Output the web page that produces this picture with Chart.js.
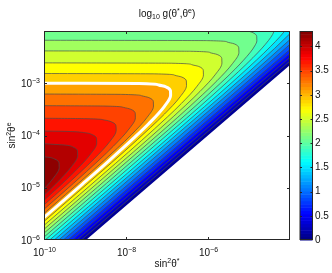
<!DOCTYPE html>
<html>
<head>
<meta charset="utf-8">
<script src="https://cdn.jsdelivr.net/npm/chart.js@4.4.1/dist/chart.umd.min.js"></script>
<style>
  html, body { margin: 0; padding: 0; background: #fff; }
</style>
</head>
<body>
<canvas id="chart" width="332" height="273"></canvas>
<script>
// axes are log10 exponents: x = log10 sin^2(theta*), y = log10 sin^2(theta^e)
const xTicks = [-10, -8, -6];
const yTicks = [-6, -5, -4, -3];
const cbTicks = [0, 0.5, 1, 1.5, 2, 2.5, 3, 3.5, 4];
const cMax = 4.32;

// contour lines of log10 g, one array per level, points [x, y]
const iso42 = [[-10, -4.409], [-9.918, -4.414], [-9.745, -4.449], [-9.633, -4.525], [-9.629, -4.611], [-9.784, -4.827], [-9.939, -4.971], [-10, -5.021]];
const iso40 = [[-10, -4.152], [-9.951, -4.159], [-9.467, -4.185], [-9.294, -4.220], [-9.182, -4.296], [-9.178, -4.382], [-9.333, -4.598], [-9.714, -4.928], [-10, -5.144]];
const iso38 = [[-10, -3.914], [-9.487, -3.921], [-9.003, -3.947], [-8.830, -3.982], [-8.718, -4.058], [-8.714, -4.144], [-8.869, -4.360], [-9.250, -4.690], [-9.595, -4.951], [-10, -5.241]];
const iso36 = [[-10, -3.670], [-9.013, -3.677], [-8.530, -3.703], [-8.357, -3.738], [-8.245, -3.814], [-8.240, -3.900], [-8.395, -4.116], [-8.777, -4.446], [-9.121, -4.707], [-9.747, -5.154], [-10, -5.328]];
const iso34 = [[-10, -3.429], [-8.544, -3.436], [-8.061, -3.462], [-7.888, -3.497], [-7.775, -3.573], [-7.771, -3.659], [-7.926, -3.875], [-8.308, -4.205], [-8.652, -4.466], [-9.278, -4.913], [-9.923, -5.359], [-10, -5.412]];
const iso32 = [[-10, -3.206], [-8.102, -3.213], [-7.618, -3.239], [-7.445, -3.274], [-7.333, -3.350], [-7.329, -3.436], [-7.484, -3.652], [-7.865, -3.982], [-8.210, -4.243], [-8.835, -4.690], [-9.481, -5.136], [-10, -5.493]];
const iso30 = [[-10, -3.000], [-7.685, -3.007], [-7.201, -3.033], [-7.028, -3.068], [-6.916, -3.144], [-6.912, -3.230], [-7.067, -3.446], [-7.448, -3.776], [-7.793, -4.037], [-8.418, -4.484], [-9.064, -4.930], [-10, -5.568]];
const iso28 = [[-10, -2.813], [-7.297, -2.820], [-6.813, -2.846], [-6.640, -2.881], [-6.528, -2.957], [-6.524, -3.043], [-6.679, -3.259], [-7.060, -3.589], [-7.405, -3.850], [-8.030, -4.297], [-8.676, -4.743], [-10, -5.645]];
const iso26 = [[-10, -2.610], [-6.884, -2.617], [-6.401, -2.643], [-6.227, -2.678], [-6.115, -2.754], [-6.111, -2.840], [-6.266, -3.056], [-6.648, -3.386], [-6.992, -3.647], [-7.618, -4.094], [-8.263, -4.540], [-10, -5.720]];
const iso24 = [[-10, -2.381], [-6.433, -2.388], [-5.949, -2.414], [-5.776, -2.449], [-5.664, -2.525], [-5.660, -2.611], [-5.815, -2.827], [-6.196, -3.157], [-6.541, -3.418], [-7.166, -3.865], [-7.812, -4.311], [-10, -5.795]];
const iso22 = [[-10, -2.177], [-6.019, -2.184], [-5.535, -2.210], [-5.362, -2.245], [-5.250, -2.321], [-5.246, -2.407], [-5.401, -2.623], [-5.782, -2.953], [-6.127, -3.214], [-6.752, -3.661], [-7.398, -4.107], [-10, -5.869]];
const iso20 = [[-5.032, -2.000], [-4.924, -2.025], [-4.812, -2.101], [-4.808, -2.187], [-4.861, -2.286], [-4.963, -2.403], [-5.344, -2.733], [-5.689, -2.994], [-6.314, -3.441], [-6.960, -3.887], [-10, -5.944]];
const iso18 = [[-4.384, -2.000], [-4.424, -2.066], [-4.526, -2.183], [-4.681, -2.327], [-4.907, -2.513], [-5.252, -2.774], [-5.877, -3.221], [-6.523, -3.667], [-9.973, -6]];
const iso16 = [[-4.126, -2.000], [-4.243, -2.107], [-4.469, -2.293], [-4.814, -2.554], [-5.439, -3.001], [-6.085, -3.447], [-9.862, -6]];
const iso14 = [[-4, -2], [-4, -2.049], [-4.378, -2.335], [-5.003, -2.782], [-5.649, -3.228], [-9.751, -6]];
const iso12 = [[-4, -2], [-4, -2.163], [-4.565, -2.562], [-5.211, -3.008], [-9.640, -6]];
const iso10 = [[-4, -2], [-4, -2.254], [-4.773, -2.788], [-6.557, -4], [-9.529, -6]];
const iso08 = [[-4, -2], [-4, -2.353], [-6.447, -4], [-9.419, -6]];
const iso06 = [[-4, -2], [-4, -2.428], [-6.336, -4], [-9.308, -6]];
const iso04 = [[-4, -2], [-4, -2.503], [-6.225, -4], [-9.197, -6]];
const iso02 = [[-4, -2], [-4, -2.577], [-6.114, -4], [-9.086, -6]];
const iso00 = [[-4, -2], [-4, -2.652], [-6.003, -4], [-8.975, -6]];

const levels = [4.2, 4.0, 3.8, 3.6, 3.4, 3.2, 3.0, 2.8, 2.6, 2.4, 2.2, 2.0, 1.8, 1.6, 1.4, 1.2, 1.0, 0.8, 0.6, 0.4, 0.2, 0];
const isolines = [iso42, iso40, iso38, iso36, iso34, iso32, iso30, iso28, iso26, iso24, iso22, iso20, iso18, iso16, iso14, iso12, iso10, iso08, iso06, iso04, iso02, iso00];
const whiteLevel = 3.0;

// text with super/subscripts: [text, 1 = sup, -1 = sub, 0 = normal]
const titleText = [['log', 0], ['10', -1], [' g(\u03B8', 0], ['*', 1], [',\u03B8', 0], ['e', 1], [')', 0]];
const xTitleText = [['sin', 0], ['2', 1], ['\u03B8', 0], ['*', 1]];
const yTitleText = [['sin', 0], ['2', 1], ['\u03B8', 0], ['e', 1]];

function jet(t) {
  const c = v => Math.round(255 * Math.max(0, Math.min(1, 1.5 - Math.abs(v))));
  return `rgb(${c(4 * t - 3)},${c(4 * t - 2)},${c(4 * t - 1)})`;
}

const family = "'Liberation Sans', Arial, 'DejaVu Sans', sans-serif";
const font = { family, size: 10 };
const ink = '#111';

function drawRich(ctx, parts, x, y, align) {
  const setFont = m => { ctx.font = `${m ? 7 : 10}px ${family}`; };
  let w = 0;
  parts.forEach(([t, m]) => { setFont(m); w += ctx.measureText(t).width; });
  let cx = align === 'center' ? x - w / 2 : align === 'right' ? x - w : x;
  ctx.textAlign = 'left';
  ctx.textBaseline = 'alphabetic';
  parts.forEach(([t, m]) => {
    setFont(m);
    ctx.fillText(t, cx, y + (m === 1 ? -4 : m === -1 ? 2.5 : 0));
    cx += ctx.measureText(t).width;
  });
}
const powParts = v => [['10', 0], [String(v).replace('-', '\u2212'), 1]];

const datasets = levels.map((lv, i) => {
  const bandMid = lv >= 4.2 ? 4.26 : lv + 0.1;
  return {
    data: isolines[i].map(([x, y]) => ({ x, y })),
    backgroundColor: jet(bandMid / cMax),
    borderColor: lv === whiteLevel ? '#ffffff' : '#4a4a4a',
    borderWidth: lv === 0 ? 0 : (lv === whiteLevel ? 3 : 0.7),
    fill: { value: -10 },
    pointRadius: 0,
    cubicInterpolationMode: lv >= 1.6 ? 'monotone' : 'default',
    tension: 0,
    clip: 0
  };
});

const frame = {
  id: 'frame',
  afterDraw(chart) {
    const { ctx, chartArea: a, scales: { x, y, cb } } = chart;
    ctx.save();
    ctx.strokeStyle = '#262626';
    ctx.lineWidth = 1;
    ctx.strokeRect(a.left + 0.5, a.top + 0.5, a.right - a.left - 1, a.bottom - a.top - 1);
    ctx.beginPath();
    xTicks.slice(1).forEach(v => {
      const px = Math.round(x.getPixelForValue(v)) + 0.5;
      ctx.moveTo(px, a.bottom); ctx.lineTo(px, a.bottom - 3);
      ctx.moveTo(px, a.top); ctx.lineTo(px, a.top + 3);
    });
    yTicks.slice(1).forEach(v => {
      const py = Math.round(y.getPixelForValue(v)) + 0.5;
      ctx.moveTo(a.left, py); ctx.lineTo(a.left + 3, py);
      ctx.moveTo(a.right, py); ctx.lineTo(a.right - 3, py);
    });
    ctx.stroke();

    // colour bar
    const bx = cb.left + 10, bw = 12.5;
    const steps = 64;
    for (let k = 0; k < steps; k++) {
      const y0 = cb.getPixelForValue(k / steps * cMax);
      const y1 = cb.getPixelForValue((k + 1) / steps * cMax);
      ctx.fillStyle = jet((k + 0.5) / steps);
      ctx.fillRect(bx, y1, bw, y0 - y1 + 0.5);
    }
    ctx.strokeRect(bx, a.top + 0.5, bw, a.bottom - a.top - 1);
    ctx.beginPath();
    cbTicks.slice(1).forEach(v => {
      const py = Math.round(cb.getPixelForValue(v)) + 0.5;
      ctx.moveTo(bx, py); ctx.lineTo(bx + 2, py);
      ctx.moveTo(bx + bw, py); ctx.lineTo(bx + bw - 2, py);
    });
    ctx.stroke();

    // tick labels and titles
    ctx.fillStyle = ink;
    xTicks.forEach(v => drawRich(ctx, powParts(v), x.getPixelForValue(v) + 0.5, a.bottom + 16, 'center'));
    yTicks.forEach(v => drawRich(ctx, powParts(v), a.left - 4, y.getPixelForValue(v) + 3.6, 'right'));
    drawRich(ctx, titleText, (a.left + a.right) / 2, 16.5, 'center');
    drawRich(ctx, xTitleText, (a.left + a.right) / 2, 267, 'center');
    ctx.translate(15, (a.top + a.bottom) / 2);
    ctx.rotate(-Math.PI / 2);
    drawRich(ctx, yTitleText, 0, 0, 'center');
    ctx.restore();
  }
};

new Chart(document.getElementById('chart'), {
  type: 'line',
  data: { datasets },
  plugins: [frame],
  options: {
    responsive: false,
    devicePixelRatio: 1,
    animation: false,
    events: [],
    indexAxis: 'y',
    layout: { padding: { top: 30 } },
    plugins: {
      legend: { display: false },
      tooltip: { enabled: false },
      filler: { drawTime: 'beforeDatasetsDraw' }
    },
    scales: {
      x: {
        type: 'linear', min: -10, max: -4,
        grid: { display: false, drawTicks: false },
        border: { display: false },
        afterBuildTicks: s => { s.ticks = xTicks.map(value => ({ value })); },
        afterFit: s => { s.height = 33; },
        ticks: { display: false }
      },
      y: {
        type: 'linear', position: 'left', min: -6, max: -2,
        grid: { display: false, drawTicks: false },
        border: { display: false },
        afterBuildTicks: s => { s.ticks = yTicks.map(value => ({ value })); },
        afterFit: s => { s.width = 44; },
        ticks: { display: false }
      },
      cb: {
        type: 'linear', position: 'right', axis: 'y', min: 0, max: cMax,
        grid: { display: false, drawTicks: false },
        border: { display: false },
        afterBuildTicks: s => { s.ticks = cbTicks.map(value => ({ value })); },
        afterFit: s => { s.width = 42; },
        ticks: { font, color: ink, padding: 25, autoSkip: false, callback: v => String(v) }
      }
    }
  }
});
</script>
</body>
</html>
